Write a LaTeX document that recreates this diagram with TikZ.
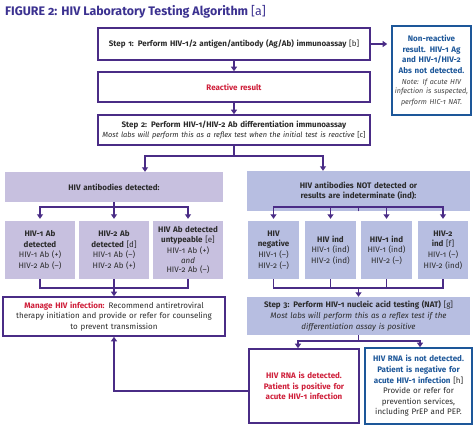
\documentclass[tikz,border=0pt]{standalone}
\usepackage{fontspec}
\setmainfont{Fira Sans}[Numbers=OldStyle]
\usetikzlibrary{arrows.meta}
\definecolor{hvpurple}{HTML}{4A2C86}
\definecolor{hvlav}{HTML}{C7C0DF}
\definecolor{hvblu}{HTML}{B7BEE1}
\definecolor{hvred}{HTML}{CF1F3A}
\definecolor{hvblue}{HTML}{1D5799}
\definecolor{hvtitle}{HTML}{3B3190}
\definecolor{hvtext}{HTML}{2B2B2B}
\definecolor{hvgray}{HTML}{444444}
\newcommand\hvfs{\fontsize{8}{10.6}\selectfont}
\tikzset{
  base/.style={align=center, inner sep=2pt, font=\hvfs, text=hvtext},
  pbox/.style={base, draw=hvpurple, line width=1.6pt, fill=white},
  bbox/.style={base, draw=hvblue, line width=1.6pt, fill=white},
  lbox/.style={base, fill=hvlav},
  ubox/.style={base, fill=hvblu},
  conn/.style={draw=hvpurple, line width=1.4pt},
  arr/.style={conn, -{Triangle[width=6pt,length=4.5pt]}},
}
\begin{document}
\begin{tikzpicture}[x=1pt,y=-1pt]
\useasboundingbox (0,0) rectangle (474,429);
% title
\node[anchor=base west, inner sep=0pt, font=\fontsize{12.4}{14}\selectfont\bfseries, text=hvtitle] (title) at (5,15)
  {FIGURE 2: HIV Laboratory Testing Algorithm {\mdseries [a]}};
% step 1 row
\node[pbox, minimum width=272, minimum height=32, text width=268] (s1) at (234,44)
  {\textbf{Step 1: Perform HIV-1/2 antigen/antibody (Ag/Ab) immunoassay} [b]};
\node[bbox, minimum width=79, minimum height=89, text width=78, inner sep=0.5pt] (nr) at (431.5,70.5)
  {{\color{hvblue}\bfseries Non-reactive\\result. HIV-1 Ag\\and HIV-1/HIV-2\\Abs not detected.}\\[2pt]
   {\fontsize{7.2}{9.3}\selectfont\itshape\color{hvgray} Note: If acute HIV\\infection is suspected,\\perform HIC-1 NAT.}};
\node[pbox, minimum width=272, minimum height=30, text width=268] (rr) at (234,87)
  {\color{hvred}\bfseries Reactive result};
\node[pbox, minimum width=272, minimum height=30, text width=270, inner sep=1pt] (s2) at (234,130)
  {\textbf{Step 2: Perform HIV-1/HIV-2 Ab differentiation immunoassay}\\
   {\fontsize{7.4}{10.6}\selectfont\itshape Most labs will perform this as a reflex test when the initial test is reactive \upshape[c]}};
% categories
\node[lbox, minimum width=218, minimum height=30, text width=214] (lc) at (114,187)
  {\bfseries HIV antibodies detected:};
\node[ubox, minimum width=223, minimum height=40, text width=219] (rc) at (358.5,191)
  {\bfseries HIV antibodies NOT detected or\\results are indeterminate (ind):};
% antibody boxes
\node[lbox, minimum width=70, minimum height=58, text width=66] (a1) at (40,250)
  {\textbf{HIV-1 Ab\\detected}\\HIV-1 Ab (+)\\HIV-2 Ab (–)};
\node[lbox, minimum width=70, minimum height=58, text width=66] (a2) at (114,250)
  {\textbf{HIV-2 Ab\\detected} [d]\\HIV-1 Ab (–)\\HIV-2 Ab (+)};
\node[lbox, minimum width=70, minimum height=58, text width=69, inner sep=0.5pt] (a3) at (188,250)
  {\textbf{HIV Ab detected\\untypeable} [e]\\HIV-1 Ab (+)\\[-1pt]\textit{and}\\[-1pt]HIV-2 Ab (–)};
\node[ubox, minimum width=51, minimum height=58, text width=50, inner sep=0.5pt] (b1) at (273.5,250)
  {\textbf{HIV\\negative}\\HIV-1 (–)\\HIV-2 (–)};
\node[ubox, minimum width=51, minimum height=58, text width=50, inner sep=0.5pt] (b2) at (330.5,250)
  {\textbf{HIV ind}\\HIV-1 (ind)\\HIV-2 (ind)};
\node[ubox, minimum width=51, minimum height=58, text width=50, inner sep=0.5pt] (b3) at (386.5,250)
  {\textbf{HIV-1 ind}\\HIV-1 (ind)\\HIV-2 (–)};
\node[ubox, minimum width=50, minimum height=58, text width=49, inner sep=0.5pt] (b4) at (443,250)
  {\textbf{HIV-2\\ind} [f]\\HIV-1 (–)\\HIV-2 (ind)};
% manage / step 3
\node[pbox, minimum width=222, minimum height=39, text width=216] (mg) at (114,316.5)
  {{\color{hvred}\bfseries Manage HIV infection:} Recommend antiretroviral\\therapy initiation and provide or refer for counseling\\to prevent transmission};
\node[ubox, minimum width=223, minimum height=38, text width=219, inner sep=1pt] (s3) at (358.5,316)
  {\textbf{Step 3: Perform HIV-1 nucleic acid testing (NAT)} [g]\\
   {\itshape Most labs will perform this as a reflex test if the\\differentiation assay is positive}};
% results
\node[pbox, minimum width=110, minimum height=74, text width=106] (pos) at (304,386)
  {\color{hvred}\bfseries HIV RNA is detected.\\Patient is positive for\\acute HIV-1 infection};
\node[bbox, minimum width=107, minimum height=76, text width=106, inner sep=0.5pt] (neg) at (418.5,386)
  {{\color{hvblue}\bfseries HIV RNA is not detected.\\Patient is negative for\\acute HIV-1 infection} [h]\\Provide or refer for\\prevention services,\\including PrEP and PEP.};
% connectors
\coordinate (f1l) at (145,156);
\coordinate (f1r) at (323,156);
\coordinate (jl) at (114,207);
\coordinate (jlb) at (114,288);
\coordinate (jr) at (358.5,207);
\coordinate (jrb) at (358.5,288);
\coordinate (f4l) at (298,341);
\coordinate (f4r) at (420,341);
\draw[arr] (s1.east) -- ([xshift=-4pt]nr.west |- s1.east);
\draw[arr] (s1.south) -- (rr.north);
\draw[arr] (rr.south) -- (s2.north);
\draw[arr] (s2.south) |- (f1l) -- (f1l |- lc.north);
\draw[arr] (s2.south) |- (f1r) -- (f1r |- rc.north);
\draw[arr, shorten >=2pt] (lc.south) |- (a1.north |- jl) -- (a1.north);
\draw[arr, shorten >=2pt] (lc.south) |- (a3.north |- jl) -- (a3.north);
\draw[arr, shorten >=2pt] (lc.south) -- (a2.north);
\draw[conn] (a1.south) |- (jlb);
\draw[conn] (a3.south) |- (jlb);
\draw[conn] (a2.south) -- (jlb);
\draw[arr] (jlb) -- (mg.north);
\draw[arr, shorten >=2pt] (rc.south) |- (b1.north |- jr) -- (b1.north);
\draw[arr, shorten >=2pt] (rc.south) |- (b2.north |- jr) -- (b2.north);
\draw[arr, shorten >=2pt] (rc.south) |- (b3.north |- jr) -- (b3.north);
\draw[arr, shorten >=2pt] (rc.south) |- (b4.north |- jr) -- (b4.north);
\draw[conn] (b1.south) |- (jrb);
\draw[conn] (b4.south) |- (jrb);
\draw[conn] (b2.south) -- (b2.south |- jrb);
\draw[conn] (b3.south) -- (b3.south |- jrb);
\draw[arr] (jrb) -- (s3.north);
\draw[arr] (s3.south) |- (f4l) -- (f4l |- pos.north);
\draw[arr] (s3.south) |- (f4r) -- (f4r |- neg.north);
\draw[arr] ([yshift=-5pt]pos.west) -| (mg.south);
\end{tikzpicture}
\end{document}
